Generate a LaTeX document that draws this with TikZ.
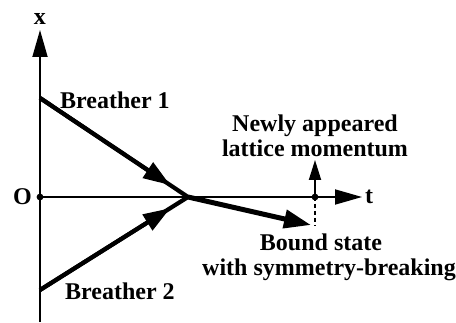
\documentclass[tikz,border=0pt]{standalone}
\usepackage{fontspec}
\setmainfont{Liberation Serif}
\usetikzlibrary{arrows.meta,calc,positioning}

\tikzset{
  axisline/.style={line width=1.8pt},
  world/.style={line width=4.2pt},
  lbl/.style={font=\fontsize{24}{25}\selectfont\bfseries, inner sep=0pt},
}

\begin{document}
\begin{tikzpicture}[x=1pt, y=1pt, >={Triangle[length=27pt, width=15pt]}]
  \useasboundingbox (0,0) rectangle (456,322);
  % axes
  \coordinate (o) at (40,125);
  \coordinate (xbot) at (40,0);
  \coordinate (xtop) at (40,292);
  \coordinate (ttip) at (362,125);
  \draw[axisline] (xbot) -- (o);
  \draw[axisline, ->] (o) -- (xtop);
  \draw[axisline, ->] (o) -- (ttip);
  \fill (o) circle (3.4pt);
  \node[lbl, above=5pt of xtop] (xlab) {x};
  \node[lbl, right=3pt of ttip] (tlab) {t};
  \node[lbl, left=8pt of o] (olab) {O};
  % breathers
  \coordinate (b1) at (40,224);
  \coordinate (b2) at (40,32);
  \coordinate (p) at (188,125);
  \draw[world] (b1) -- (p);
  \draw[world] (b2) -- (p);
  \draw[world, -{Triangle[length=27pt, width=18pt]}] (b1) -- ($(b1)!0.88!(p)$);
  \draw[world, -{Triangle[length=27pt, width=18pt]}] (b2) -- ($(b2)!0.88!(p)$);
  \node[lbl, anchor=base west] (n1) at (60,213) {Breather 1};
  \node[lbl, anchor=base west] (n2) at (65,23) {Breather 2};
  % bound state
  \coordinate (bs) at (311,97);
  \draw[world, line width=5pt, -{Triangle[length=27pt, width=18pt]}] (p) -- (bs);
  \coordinate (d) at (315,125);
  \coordinate (dbot) at (315,96);
  \coordinate (mom) at (315,162);
  \draw[axisline, dash pattern=on 4pt off 3pt] (d) -- (dbot);
  \draw[axisline, -{Triangle[length=20pt, width=12pt]}] (d) -- (mom);
  \fill (d) circle (3.4pt);
  \node[lbl, anchor=base] (nnew) at (315,190) {Newly appeared};
  \node[lbl, anchor=base] (nlat) at (315,165) {lattice momentum};
  \node[lbl, anchor=base] (nbs) at (321,72) {Bound state};
  \node[lbl, anchor=base] (nsym) at (329,47) {with symmetry-breaking};
\end{tikzpicture}
\end{document}
